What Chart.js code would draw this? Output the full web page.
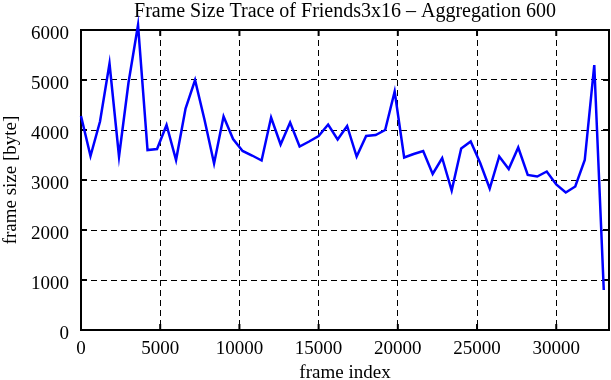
<!DOCTYPE html>
<html>
<head>
<meta charset="utf-8">
<script src="https://cdn.jsdelivr.net/npm/chart.js@4"></script>
<style>
  body { margin: 0; background: #fff; }
  #chart { display: block; }
</style>
</head>
<body>
<canvas id="chart" width="611" height="380"></canvas>
<script>
// --- data (one point every 600 frames) ---
const frameIndex = [
    0, 600, 1200, 1800, 2400, 3000, 3600, 4200, 4800, 5400,
    6000, 6600, 7200, 7800, 8400, 9000, 9600, 10200, 10800, 11400,
    12000, 12600, 13200, 13800, 14400, 15000, 15600, 16200, 16800, 17400,
    18000, 18600, 19200, 19800, 20400, 21000, 21600, 22200, 22800, 23400,
    24000, 24600, 25200, 25800, 26400, 27000, 27600, 28200, 28800, 29400,
    30000, 30600, 31200, 31800, 32400, 33000
];
const frameSize = [
    4280, 3480, 4170, 5330, 3470, 4950, 6100, 3600, 3620, 4100,
    3400, 4430, 5000, 4200, 3330, 4270, 3820, 3580, 3490, 3390,
    4250, 3710, 4150, 3670, 3770, 3880, 4110, 3810, 4080, 3470,
    3880, 3900, 4000, 4770, 3450, 3520, 3580, 3120, 3440, 2790,
    3630, 3770, 3340, 2830, 3470, 3220, 3650, 3100, 3070, 3170,
    2910, 2750, 2870, 3400, 5300, 800
];
const xTicks = [0, 5000, 10000, 15000, 20000, 25000, 30000];
const yTicks = [0, 1000, 2000, 3000, 4000, 5000, 6000];
const X_MAX = 33330;

const FONT = "'Liberation Serif', 'DejaVu Serif', serif";

// frame around the plot with inward tick marks (gnuplot style)
const framePlugin = {
    id: 'frame',
    beforeDatasetsDraw(chart) {
        const { ctx, chartArea: a, scales } = chart;
        const tl = 6;
        ctx.save();
        ctx.strokeStyle = '#000';
        ctx.lineWidth = 2;
        ctx.strokeRect(a.left, a.top, a.right - a.left, a.bottom - a.top);
        ctx.beginPath();
        xTicks.forEach(v => {
            const px = scales.x.getPixelForValue(v);
            ctx.moveTo(px, a.bottom); ctx.lineTo(px, a.bottom - tl);
            ctx.moveTo(px, a.top); ctx.lineTo(px, a.top + tl);
        });
        yTicks.forEach(v => {
            const py = scales.y.getPixelForValue(v);
            ctx.moveTo(a.left, py); ctx.lineTo(a.left + tl, py);
            ctx.moveTo(a.right, py); ctx.lineTo(a.right - tl, py);
        });
        ctx.stroke();
        ctx.restore();
    }
};

Chart.defaults.color = '#000';
Chart.defaults.font.family = FONT;

new Chart(document.getElementById('chart'), {
    type: 'line',
    data: {
        datasets: [{
            data: frameIndex.map((f, i) => ({ x: f, y: frameSize[i] })),
            borderColor: '#0000ff',
            borderWidth: 2.5,
            pointRadius: 0,
            tension: 0,
            clip: false
        }]
    },
    options: {
        responsive: false,
        animation: false,
        layout: { padding: { left: 0, right: 2, top: 0, bottom: 0 } },
        plugins: {
            legend: { display: false },
            tooltip: { enabled: false },
            title: {
                display: true,
                fullSize: false, // center over the plot area
                text: 'Frame Size Trace of Friends3x16 \u2013 Aggregation 600',
                font: { size: 20, weight: 'normal', family: FONT, lineHeight: 1.2 },
                color: '#000',
                padding: { top: 0, bottom: 6 }
            }
        },
        scales: {
            x: {
                type: 'linear',
                min: 0,
                max: X_MAX,
                afterBuildTicks: (s) => { s.ticks = xTicks.map(v => ({ value: v })); },
                afterFit: (s) => { s.height = 50; },
                ticks: {
                    font: { size: 19, family: FONT },
                    padding: 8,
                    maxRotation: 0,
                    callback: (v) => String(v)
                },
                grid: {
                    color: '#000',
                    lineWidth: 1,
                    drawTicks: false
                },
                border: { display: false, dash: [6, 4] },
                title: {
                    display: true,
                    text: 'frame index',
                    font: { size: 19, family: FONT, lineHeight: 0.75 },
                    padding: { top: 0, bottom: 0 }
                }
            },
            y: {
                min: 0,
                max: 6000,
                afterBuildTicks: (s) => { s.ticks = yTicks.map(v => ({ value: v })); },
                afterFit: (s) => { s.width = 81; },
                ticks: {
                    font: { size: 19, family: FONT },
                    padding: 12,
                    labelOffset: 4,
                    callback: (v) => String(v)
                },
                grid: {
                    color: '#000',
                    lineWidth: 1,
                    drawTicks: false
                },
                border: { display: false, dash: [6, 4] },
                title: {
                    display: true,
                    text: 'frame size [byte]',
                    font: { size: 19, family: FONT, lineHeight: 1.2 },
                    padding: { top: 0, bottom: 0 }
                }
            }
        }
    },
    plugins: [framePlugin]
});
</script>
</body>
</html>
